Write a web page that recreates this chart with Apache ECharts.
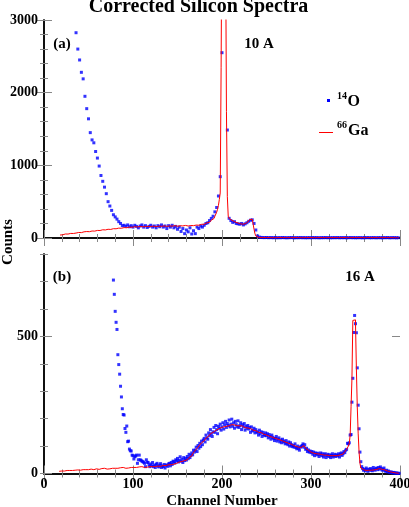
<!DOCTYPE html>
<html><head><meta charset="utf-8">
<script src="https://cdn.jsdelivr.net/npm/echarts@6/dist/echarts.min.js"></script>
<style>html,body{margin:0;padding:0;background:#fff}#c{width:409px;height:507px}</style>
</head><body><div id="c"></div>
<script>
// ---------- DATA ----------
const xTickLabels = [0, 100, 200, 300, 400];
const topYTickLabels = [0, 1000, 2000, 3000];
const botYTickLabels = [0, 500];

// Panel (a) 10 A : 14O points (every 2 channels, from channel 36)
const topBlueStart = 36, topBlueStep = 2;
const topBlue = [
2825,2600,2450,2280,2190,1950,1780,1640,1450,1350,
1310,1190,1100,990,860,780,700,610,500,440,
380,320,290,260,225,200,170,175,160,180,
155,170,150,175,160,140,165,180,150,170,
145,160,175,150,165,140,170,155,180,150,
165,130,170,150,175,140,160,120,150,90,
130,60,110,85,140,55,100,60,150,130,
165,150,175,200,210,240,270,300,360,420,
578,844,2550,5000,4000,1486,271,240,215,225,
200,195,190,200,180,195,210,230,245,250,
200,110,28,12,8,6,5,7,4,6,
5,4,6,3,5,4,6,5,3,4,
5,6,4,3,5,4,6,4,5,3,
4,5,3,6,4,5,4,3,5,4,
6,4,5,3,4,5,4,6,3,5,
4,5,3,4,6,4,5,3,4,5,
4,3,5,4,6,3,4,5,4,3,
5,4,3,5,4,6,3,4,5,4,
3,4
];
// Panel (a) 10 A : 66Ga histogram (per channel, from channel 18)
const topRedStart = 18;
const topRed = [
41,48,44,52,47,55,50,58,54,61,57,63,
60,66,62,70,65,68,73,69,76,72,
78,74,81,77,85,80,84,89,83,91,
87,94,90,96,92,99,95,101,97,104,
100,108,103,110,106,113,109,116,111,118,
114,120,116,123,118,126,121,128,124,130,
127,133,129,136,131,138,134,140,136,143,
139,146,141,148,143,150,145,152,147,154,
149,156,151,158,152,157,150,159,154,160,
155,161,153,158,162,156,160,154,163,157,
161,155,164,158,162,156,165,159,163,157,
166,160,164,158,167,161,165,159,168,162,
166,160,169,163,167,161,170,164,168,162,
171,165,169,163,172,166,170,164,173,167,
171,165,174,168,172,166,175,170,174,171,
178,173,180,176,184,180,188,185,194,190,
200,198,208,206,218,216,230,230,246,250,
268,280,300,325,355,395,450,530,620,2350,
4500,7000,8000,6500,4200,1740,570,300,270,255,
245,240,232,226,220,215,210,206,202,198,
196,193,190,188,192,196,202,210,220,232,
244,254,262,258,240,190,120,60,28,15,
10,8,7,6,6,5,6,5,5,6,
5,4,6,5,5,4,6,5,4,5,
6,5,4,5,6,4,5,5,6,4,
5,6,4,5,5,6,4,5,6,5,
4,5,6,5,4,5,5,6,4,5,
6,4,5,5,6,5,4,6,5,4,
5,5,6,4,5,6,5,4,5,6,
4,5,5,6,4,5,6,5,5,4,
6,5,4,5,6,5,4,5,6,5,
5,4,6,5,4,5,6,4,5,5,
6,5,4,6,5,5,4,5,6,4,
5,6,5,4,5,6,4,5,5,6,
4,5,6,5,4,5,5,6,4,5,
6,4,5,5,6,4,5,6,5,4,
5,5,4,6,5,4,5,5,4,3,
4,3,4,3,3,2,3,2,2,1
];

// Panel (b) 16 A : 14O points (per channel, from channel 78)
const botBlueStart = 78;
const botBlue = [
705,653,591,551,525,433,397,362,318,279,236,215,
213,164,150,173,116,118,89,83,82,67,
65,53,61,64,67,37,50,67,50,48,
45,43,41,37,25,50,41,40,31,25,
35,28,40,25,30,22,33,37,27,24,
31,36,22,28,25,33,20,30,31,26,
35,37,28,40,33,45,43,38,50,46,
55,42,48,61,45,52,40,58,47,55,
49,62,54,70,58,66,75,68,85,78,
85,96,80,102,92,110,98,118,105,122,
128,115,140,130,125,148,138,160,145,135,
152,168,150,175,160,145,172,165,180,158,
170,185,162,178,190,168,182,175,195,170,
180,198,172,185,165,190,178,170,192,168,
175,185,160,178,170,182,158,172,165,175,
162,168,150,170,158,155,165,148,160,152,
150,140,158,145,152,135,150,142,138,148,
138,145,130,142,135,125,140,132,128,120,
128,135,118,125,130,115,122,112,125,118,
115,108,120,110,105,115,100,112,105,98,
102,96,108,95,90,100,92,85,96,98,
102,108,96,105,88,92,80,86,78,82,
76,80,70,78,65,75,72,68,74,62,
70,75,65,72,60,68,72,58,66,70,
62,68,58,66,72,60,65,70,62,68,
65,72,60,70,75,66,72,80,76,85,
88,110,108,112,140,142,260,347,514,576,546,513,385,249,163,78,43,25,
18,12,15,10,20,14,8,16,12,18,
13,10,22,15,12,18,20,14,22,16,
24,18,12,15,20,10,8,12,6,9,
5,4,6,3,2,4,2,1,2,1,
0,1
];
// Panel (b) 16 A : 66Ga histogram (per channel, from channel 17)
const botRedStart = 17;
const botRed = [
8,10,9,11,10,9,12,10,11,9,12,11,10,
12,11,13,10,12,14,11,13,12,14,
12,15,13,14,12,15,14,13,16,14,
15,13,16,15,17,14,16,15,17,16,
18,15,17,16,18,17,16,19,17,18,
16,19,18,17,20,18,19,17,20,19,
18,21,19,20,18,21,20,19,22,20,
21,19,22,21,20,23,21,22,20,23,
22,21,24,22,23,21,24,23,22,25,
23,24,22,25,24,23,26,24,25,23,
26,25,24,27,25,26,24,27,26,25,
26,28,27,29,28,30,29,31,30,32,
31,33,32,34,35,34,36,38,37,39,
40,42,41,43,44,43,45,47,46,48,
50,53,55,58,61,64,68,72,76,80,
85,88,92,96,100,104,108,112,116,119,
122,126,129,133,136,139,142,145,148,150,
152,155,157,159,161,162,164,166,167,168,
168,170,171,173,172,175,176,174,178,177,
178,176,180,177,175,178,174,176,172,174,
172,170,173,169,171,167,168,165,166,163,
162,164,160,161,158,159,155,156,152,153,
150,151,148,149,146,147,143,144,141,140,
138,139,136,137,134,133,131,132,129,128,
128,126,127,124,123,121,122,119,118,116,
115,116,113,111,112,109,108,106,105,103,
102,101,99,98,97,96,94,93,95,98,
100,102,101,97,92,88,85,83,80,78,
76,75,74,73,72,72,71,70,71,70,
70,69,68,69,67,68,66,67,65,66,
65,64,66,65,64,66,65,67,66,65,
66,67,68,70,69,71,73,76,80,84,
88,95,100,110,140,243,346,558,565,560,
545,383,243,147,79,38,20,15,14,12,
13,11,12,13,12,14,13,12,14,15,
13,14,16,15,17,16,18,17,16,15,
16,14,13,12,10,9,8,7,6,5,
4,4,3,3,2,2,2,1,1,1
];

// ---------- CHART ----------
const F = '"Liberation Serif", "Times New Roman", serif';
const pairs = (start, step, vals) => vals.map((v, i) => [start + i * step, v]);
const lbl = (show, list, extra) => show ? Object.assign({show: true, fontFamily: F, fontWeight: 'bold', fontSize: 14, color: '#000',
  formatter: v => list.includes(v) ? String(v) : ''}, extra) : {show: false};
const tickStyle = {color: '#888', width: 1};
const frame = {show: true, lineStyle: {color: '#000', width: 1.5}};

function xAx(g, pos, labels) {
  return {type: 'value', gridIndex: g, position: pos, min: 0, max: 400, interval: 100,
    axisLine: frame, axisTick: {show: true, inside: true, length: 8, lineStyle: tickStyle},
    minorTick: {show: true, splitNumber: 5, length: 4, lineStyle: tickStyle},
    splitLine: {show: false}, minorSplitLine: {show: false},
    axisLabel: lbl(labels, xTickLabels, {margin: 4})};
}
const yTop = (pos, labels) => ({type: 'value', gridIndex: 0, position: pos, min: 0, max: 3000, interval: 1000,
  axisLine: frame, axisTick: {show: true, inside: true, length: 8, lineStyle: tickStyle},
  minorTick: {show: true, splitNumber: 5, length: 4, lineStyle: tickStyle},
  splitLine: {show: false}, minorSplitLine: {show: false},
  axisLabel: lbl(labels, topYTickLabels, {margin: 6})});
const yBot = (pos, labels) => ({type: 'value', gridIndex: 1, position: pos, min: 0, max: 800, interval: 100,
  axisLine: frame, axisTick: {show: true, inside: true, length: 4, lineStyle: tickStyle},
  splitLine: {show: false},
  axisLabel: lbl(labels, botYTickLabels, {margin: 6})});
const yBotMajor = (pos) => ({type: 'value', gridIndex: 1, position: pos, min: 0, max: 800, interval: 100,
  axisLine: {show: false}, axisTick: {show: true, inside: true, length: 8, lineStyle: tickStyle, customValues: botYTickLabels},
  splitLine: {show: false}, axisLabel: {show: false}});

const blueStyle = {type: 'scatter', symbol: 'rect', symbolSize: 3, itemStyle: {color: '#0000ff'}, clip: true, z: 2};
const redStyle = {type: 'line', step: 'end', symbol: 'none', showSymbol: false, lineStyle: {color: '#ff0000', width: 1}, clip: true, z: 3};

const T = (x, y, text, size, align) => ({type: 'text', x, y, style: {text, fill: '#000', fontFamily: F, fontWeight: 'bold', fontSize: size, align: align || 'center', verticalAlign: 'middle'}});

const chart = echarts.init(document.getElementById('c'), null, {renderer: 'canvas'});
chart.setOption({
  animation: false,
  backgroundColor: '#fff',
  grid: [
    {left: 44, right: 9, top: 20, height: 218, containLabel: false, outerBoundsMode: 'none'},
    {left: 44, right: 9, top: 254, height: 219.5, containLabel: false, outerBoundsMode: 'none'}
  ],
  xAxis: [xAx(0, 'bottom', false), xAx(0, 'top', false), xAx(1, 'bottom', true), xAx(1, 'top', false)],
  yAxis: [yTop('left', true), yTop('right', false), yBot('left', true), yBot('right', false), yBotMajor('left'), yBotMajor('right')],
  series: [
    Object.assign({name: '14O', xAxisIndex: 0, yAxisIndex: 0, data: pairs(topBlueStart, topBlueStep, topBlue)}, blueStyle),
    Object.assign({name: '66Ga', xAxisIndex: 0, yAxisIndex: 0, data: pairs(topRedStart, 1, topRed)}, redStyle),
    Object.assign({name: '14O', xAxisIndex: 2, yAxisIndex: 2, data: pairs(botBlueStart, 1, botBlue)}, blueStyle),
    Object.assign({name: '66Ga', xAxisIndex: 2, yAxisIndex: 2, data: pairs(botRedStart, 1, botRed)}, redStyle)
  ],
  graphic: [
    T(198.5, 6.5, 'Corrected Silicon Spectra', 20),
    T(62, 44, '(a)', 15), T(259, 44.5, '10 A', 15),
    T(62, 277.5, '(b)', 15), T(360, 277, '16 A', 15),
    {type: 'text', x: 8, y: 242, rotation: Math.PI / 2, style: {text: 'Counts', fill: '#000', fontFamily: F, fontWeight: 'bold', fontSize: 15, align: 'center', verticalAlign: 'middle'}},
    T(222, 501.5, 'Channel Number', 15),
    {type: 'rect', shape: {x: 327, y: 99, width: 3, height: 3}, style: {fill: '#0000ff'}},
    T(337, 96.3, '14', 10, 'left'), T(347.5, 102, 'O', 16, 'left'),
    {type: 'line', shape: {x1: 319, y1: 132.5, x2: 333, y2: 132.5}, style: {stroke: '#ff0000', lineWidth: 1}},
    T(337, 125.3, '66', 10, 'left'), T(348, 131, 'Ga', 16, 'left')
  ]
});
</script></body></html>
